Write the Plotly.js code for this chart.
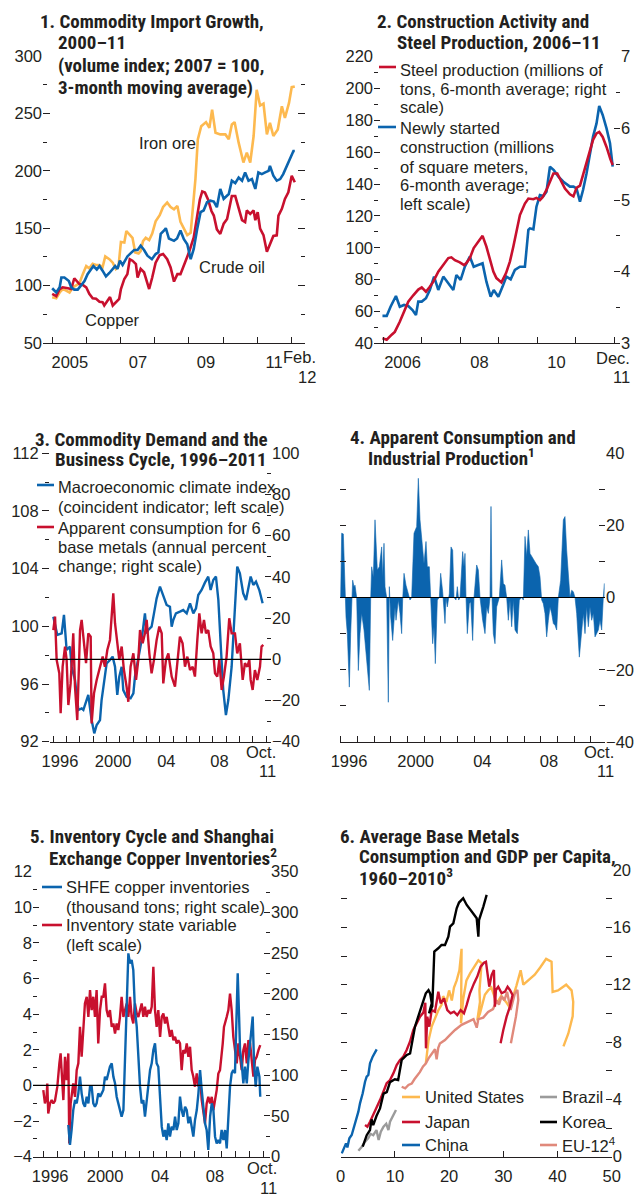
<!DOCTYPE html>
<html><head><meta charset="utf-8">
<script src="https://cdn.plot.ly/plotly-3.0.1.min.js"></script>
<style>html,body{margin:0;padding:0;background:#fff;}#chart{width:639px;height:1194px;}</style>
</head><body><div id="chart"></div>
<script>
// ---------- Panel 1: Commodity import growth (index, 2007 = 100) ----------
const ironX = [2004.98,2005.10,2005.20,2005.29,2005.39,2005.49,2005.59,2005.68,2005.78,2005.88,2005.98,2006.07,2006.17,2006.27,2006.37,2006.46,2006.54,2006.66,2006.76,2006.85,2006.93,2007.00,2007.10,2007.16,2007.26,2007.34,2007.42,2007.52,2007.58,2007.65,2007.73,2007.83,2007.92,2008.02,2008.14,2008.24,2008.36,2008.46,2008.56,2008.66,2008.75,2008.85,2008.95,2009.05,2009.11,2009.19,2009.26,2009.36,2009.50,2009.60,2009.68,2009.78,2009.92,2010.07,2010.17,2010.26,2010.34,2010.46,2010.60,2010.70,2010.80,2010.90,2010.99,2011.09,2011.19,2011.29,2011.38,2011.48,2011.61,2011.73,2011.82,2011.94,2012.02,2012.11];
const ironY = [89.9,89.0,94.0,97.0,95.7,94.0,98.5,100.0,102.0,110.0,117.0,115.0,119.0,118.0,118.0,116.0,125.4,123.0,120.0,114.5,117.0,138.0,137.5,147.5,144.6,141.6,128.9,128.0,130.0,138.7,141.6,139.6,145.4,156.0,161.3,168.5,172.3,168.5,166.5,169.4,155.5,150.0,144.0,146.0,164.0,193.0,227.4,238.9,242.4,237.5,253.3,233.1,231.7,231.7,227.4,240.3,242.4,224.5,207.2,215.9,207.2,230.3,270.6,256.8,258.5,231.7,241.8,230.3,236.0,256.2,246.1,259.1,272.9,273.5];
const oilX = [2004.98,2005.10,2005.20,2005.25,2005.34,2005.47,2005.54,2005.63,2005.73,2005.83,2005.93,2006.02,2006.12,2006.19,2006.29,2006.37,2006.46,2006.56,2006.66,2006.75,2006.83,2006.90,2006.97,2007.05,2007.13,2007.19,2007.29,2007.39,2007.49,2007.58,2007.68,2007.78,2007.91,2008.02,2008.10,2008.17,2008.27,2008.32,2008.41,2008.56,2008.65,2008.75,2008.85,2008.95,2009.05,2009.14,2009.24,2009.34,2009.43,2009.53,2009.63,2009.73,2009.82,2009.92,2010.02,2010.12,2010.17,2010.26,2010.36,2010.46,2010.56,2010.65,2010.75,2010.85,2010.95,2011.04,2011.14,2011.24,2011.34,2011.38,2011.48,2011.58,2011.68,2011.77,2011.87,2011.97,2012.07,2012.11];
const oilY = [97.7,94.0,98.5,107.0,107.0,104.0,98.5,96.5,96.5,100.0,104.0,110.0,114.5,117.0,114.0,117.0,113.0,108.0,111.0,114.5,117.0,114.5,121.7,118.0,123.0,125.4,128.3,131.0,131.0,134.7,131.0,126.0,123.0,127.5,129.0,145.0,148.0,150.0,141.0,139.0,141.0,148.0,140.5,136.0,123.0,132.0,149.0,164.0,165.4,172.6,174.0,173.2,168.3,184.2,175.5,178.4,179.8,191.4,189.3,194.2,191.4,198.6,191.4,192.8,184.2,198.6,197.1,198.6,200.0,204.3,195.7,191.4,192.8,197.1,204.3,211.5,217.3,217.3];
const copperX = [2004.98,2005.10,2005.20,2005.29,2005.44,2005.54,2005.63,2005.70,2005.78,2005.88,2005.98,2006.07,2006.17,2006.27,2006.37,2006.46,2006.51,2006.61,2006.68,2006.76,2006.85,2006.95,2007.00,2007.10,2007.19,2007.26,2007.34,2007.44,2007.49,2007.58,2007.68,2007.83,2007.92,2008.02,2008.14,2008.24,2008.36,2008.46,2008.56,2008.66,2008.75,2008.90,2009.00,2009.14,2009.24,2009.32,2009.39,2009.47,2009.56,2009.66,2009.73,2009.82,2009.92,2010.02,2010.12,2010.26,2010.36,2010.46,2010.56,2010.65,2010.70,2010.80,2010.90,2010.95,2011.02,2011.09,2011.19,2011.29,2011.38,2011.48,2011.58,2011.63,2011.73,2011.82,2011.92,2012.02,2012.11];
const copperY = [92.8,90.8,97.0,98.5,97.7,97.0,106.4,104.0,101.4,100.6,98.5,92.8,89.0,88.5,86.0,85.5,82.7,87.0,90.0,82.7,85.6,88.5,97.0,105.8,110.0,123.0,121.7,118.8,107.0,114.5,111.6,97.0,107.0,120.0,126.5,127.5,123.0,115.8,103.5,110.0,110.0,121.7,129.0,142.0,160.7,175.0,182.0,181.0,175.0,165.0,161.0,149.0,145.0,154.0,158.0,178.0,178.0,167.0,157.0,155.3,165.4,162.5,165.4,157.0,164.0,149.6,144.0,129.4,136.6,143.2,143.8,161.0,166.9,175.5,181.3,195.7,190.0];

// ---------- Panel 2: construction activity and steel production ----------
const steelX = [2005.98,2006.09,2006.22,2006.30,2006.43,2006.54,2006.65,2006.78,2006.91,2007.00,2007.11,2007.21,2007.30,2007.43,2007.52,2007.60,2007.69,2007.77,2007.86,2007.99,2008.10,2008.16,2008.25,2008.35,2008.47,2008.58,2008.68,2008.77,2008.86,2008.94,2009.07,2009.19,2009.29,2009.38,2009.55,2009.68,2009.77,2009.90,2009.98,2010.07,2010.14,2010.24,2010.33,2010.42,2010.52,2010.59,2010.72,2010.85,2010.94,2011.02,2011.11,2011.19,2011.28,2011.37,2011.45,2011.54,2011.61,2011.70,2011.80,2011.90,2011.96];
const steelY = [3.07,3.05,3.12,3.16,3.30,3.44,3.58,3.67,3.75,3.78,3.72,3.79,3.86,4.00,4.07,4.12,4.19,4.20,4.16,4.13,4.09,4.12,4.19,4.33,4.42,4.50,4.35,4.19,4.00,3.91,3.85,3.98,4.14,4.35,4.79,4.95,5.02,5.01,5.03,5.00,5.04,5.14,5.26,5.37,5.37,5.30,5.16,5.08,5.05,5.17,5.20,5.35,5.51,5.70,5.84,5.93,5.95,5.88,5.74,5.57,5.49];
const constrX = [2005.98,2006.09,2006.19,2006.33,2006.43,2006.54,2006.65,2006.76,2006.85,2006.91,2007.00,2007.11,2007.21,2007.32,2007.43,2007.56,2007.69,2007.82,2007.90,2008.01,2008.12,2008.25,2008.35,2008.47,2008.58,2008.68,2008.79,2008.87,2008.99,2009.10,2009.20,2009.31,2009.42,2009.55,2009.68,2009.77,2009.81,2009.90,2009.98,2010.07,2010.16,2010.24,2010.33,2010.43,2010.55,2010.68,2010.85,2010.94,2011.02,2011.11,2011.19,2011.28,2011.37,2011.45,2011.54,2011.61,2011.70,2011.80,2011.89,2011.96];
const constrY = [57.2,57.2,63.0,69.7,63.0,64.1,63.4,60.9,57.8,66.2,66.2,68.3,73.5,81.9,73.5,81.9,77.7,73.5,82.9,79.8,88.1,94.4,88.1,89.2,90.2,78.7,69.3,73.5,69.3,75.6,81.9,80.2,86.1,88.1,88.1,111.2,112.2,111.6,125.8,133.1,132.5,135.2,150.9,148.8,144.7,141.5,138.4,138.4,137.3,129.0,136.3,146.7,159.3,169.8,178.1,189.0,183.4,175.0,165.6,150.9];

// ---------- Panel 3: macro climate index (left) and apparent consumption (right) ----------
const climX = [1996.00,1996.30,1996.63,1996.80,1997.00,1997.25,1997.38,1997.63,1997.88,1998.13,1998.26,1998.46,1998.63,1998.88,1999.08,1999.26,1999.51,1999.63,1999.88,2000.01,2000.26,2000.46,2000.64,2000.81,2000.96,2001.14,2001.26,2001.51,2001.81,2002.02,2002.14,2002.27,2002.47,2002.64,2002.89,2003.02,2003.14,2003.39,2003.57,2003.77,2004.02,2004.27,2004.52,2004.77,2004.90,2005.02,2005.22,2005.52,2005.77,2006.03,2006.28,2006.53,2006.73,2006.90,2007.15,2007.40,2007.65,2007.83,2008.03,2008.23,2008.41,2008.61,2008.78,2008.98,2009.16,2009.41,2009.66,2009.83,2010.03,2010.28,2010.49,2010.66,2010.84,2011.04,2011.24,2011.49,2011.74];
const climY = [100.67,99.40,99.51,100.79,98.36,98.59,97.20,96.28,94.20,94.31,94.20,94.77,95.24,93.50,92.58,93.16,93.50,94.89,96.51,97.43,97.66,97.90,97.20,95.24,96.51,97.20,95.58,95.12,95.01,95.35,96.51,97.20,98.13,99.05,100.90,99.51,99.75,99.98,100.90,101.94,102.75,102.06,101.48,101.36,99.98,100.44,100.90,101.02,101.13,100.90,101.60,100.90,101.25,102.17,102.52,103.03,103.45,102.52,103.21,103.45,101.83,98.36,95.58,93.85,94.89,97.20,100.90,104.14,103.68,102.29,101.83,102.75,103.45,102.87,103.10,102.52,101.60];
const consX = [1996.00,1996.13,1996.25,1996.45,1996.55,1996.70,1996.88,1997.00,1997.13,1997.30,1997.50,1997.63,1997.80,1998.01,1998.13,1998.26,1998.46,1998.63,1998.81,1998.88,1999.06,1999.26,1999.51,1999.71,1999.88,2000.06,2000.26,2000.51,2000.64,2000.76,2000.96,2001.14,2001.31,2001.51,2001.64,2001.81,2002.02,2002.22,2002.39,2002.52,2002.72,2002.89,2003.02,2003.22,2003.39,2003.57,2003.77,2003.97,2004.15,2004.27,2004.47,2004.65,2004.90,2005.15,2005.32,2005.52,2005.72,2005.90,2006.08,2006.28,2006.48,2006.65,2006.83,2006.98,2007.15,2007.33,2007.48,2007.65,2007.83,2008.03,2008.16,2008.33,2008.48,2008.66,2008.83,2009.03,2009.23,2009.41,2009.66,2009.83,2010.03,2010.24,2010.41,2010.59,2010.74,2010.84,2010.99,2011.16,2011.34,2011.54,2011.66,2011.79];
const consY = [14.2,20.7,-0.3,-6.8,-26.2,-3.6,6.2,-0.3,-22.2,-11.7,12.6,-13.3,-29.5,14.2,19.1,9.4,-1.9,12.6,11.0,-31.1,-16.5,-10.0,-3.6,1.3,-3.6,4.5,9.4,32.0,17.5,9.4,-0.3,6.2,-5.2,-13.3,-20.6,-3.6,2.9,-10.0,-0.3,14.2,7.8,12.6,19.1,2.9,-6.8,-0.3,9.4,15.9,12.6,-11.7,-0.3,2.9,-8.4,-13.3,-3.6,11.0,7.8,-3.6,1.3,-5.2,-3.6,-8.4,9.4,22.3,12.6,19.1,12.6,14.2,6.2,2.9,-6.8,-8.4,-0.3,-14.9,-8.4,1.3,19.9,12.6,12.6,2.9,7.8,-10.0,-1.9,-3.6,-0.3,-10.0,-14.9,-5.2,-10.0,-3.6,6.2,7.0];

// ---------- Panel 4: apparent consumption minus industrial production ----------
const gapX = [1996.00,1996.06,1996.16,1996.20,1996.26,1996.32,1996.40,1996.52,1996.60,1996.66,1996.72,1996.80,1996.86,1996.96,1997.06,1997.16,1997.26,1997.40,1997.52,1997.66,1997.72,1997.80,1997.86,1997.96,1998.06,1998.20,1998.32,1998.46,1998.52,1998.60,1998.66,1998.76,1998.86,1998.92,1999.00,1999.12,1999.26,1999.32,1999.46,1999.56,1999.66,1999.72,1999.80,1999.92,2000.06,2000.16,2000.26,2000.40,2000.56,2000.66,2000.76,2000.86,2001.00,2001.12,2001.20,2001.32,2001.40,2001.52,2001.60,2001.68,2001.80,2001.92,2002.00,2002.12,2002.26,2002.32,2002.40,2002.52,2002.62,2002.72,2002.80,2002.92,2003.00,2003.08,2003.16,2003.32,2003.40,2003.46,2003.52,2003.60,2003.72,2003.80,2003.92,2004.00,2004.16,2004.26,2004.36,2004.52,2004.66,2004.76,2004.86,2004.96,2005.02,2005.08,2005.16,2005.26,2005.36,2005.52,2005.66,2005.76,2005.86,2005.96,2006.06,2006.16,2006.26,2006.36,2006.46,2006.60,2006.72,2006.86,2006.96,2007.06,2007.16,2007.26,2007.36,2007.46,2007.56,2007.72,2007.86,2007.96,2008.06,2008.16,2008.26,2008.36,2008.46,2008.56,2008.66,2008.76,2008.86,2008.96,2009.06,2009.20,2009.36,2009.46,2009.56,2009.66,2009.76,2009.86,2009.96,2010.06,2010.16,2010.32,2010.46,2010.56,2010.66,2010.76,2010.86,2010.96,2011.06,2011.16,2011.26,2011.36,2011.46,2011.56,2011.66,2011.76,2011.82];
const gapY = [0,17.8,17.6,10.4,0,-5.4,-10.0,-24.8,-10.0,0,4.8,3.0,3.4,0,-20.2,-10.0,-4.4,-9.0,-15.6,-24.8,-25.7,-0.7,8.5,5.7,21.5,7.6,8.5,14.0,5.7,15.0,3.0,0,-29.0,3.0,-5.4,-11.9,-2.6,-6.3,-0.7,-4.4,-10.0,-0.7,6.7,3.4,1.1,-0.7,0,17.8,19.6,33.0,21.5,15.9,9.4,15.5,8.5,8.5,-0.7,-12.8,-8.1,-18.3,-0.7,0,6.7,1.6,-7.2,0,-2.6,1.1,14.0,13.1,0,-0.7,3.0,-0.7,0,12.7,8.5,12.2,0,-10.0,-1.7,-1.2,-11.9,0,9.0,7.6,0,-6.3,-10.0,-2.6,-4.4,0,25.2,0,-10.0,-12.8,-2.6,0,10.4,3.9,3.4,0,-6.3,-0.7,-8.1,-0.7,-9.0,-10.0,-0.7,0,-0.7,16.9,11.3,18.7,12.2,11.3,10.4,9.4,8.5,5.7,-0.7,-1.7,-4.4,-10.9,-6.3,-2.6,-4.4,-7.2,-7.7,-9.0,0,4.8,21.5,22.4,13.1,5.7,0,2.0,1.6,0,-4.4,-16.5,-9.0,-4.4,-10.0,-2.6,-8.1,-2.6,-6.3,-4.4,-10.9,-10.0,-9.0,-6.3,-9.0,0,3.9];

// ---------- Panel 5: SHFE copper inventories (right) and inventory state variable (left) ----------
const shfeX = [1997.82,1997.94,1998.06,1998.18,1998.31,1998.43,1998.55,1998.67,1998.79,1998.91,1999.03,1999.16,1999.28,1999.40,1999.52,1999.64,1999.76,1999.88,2000.00,2000.13,2000.25,2000.37,2000.49,2000.61,2000.73,2000.85,2000.98,2001.10,2001.22,2001.34,2001.46,2001.58,2001.70,2001.83,2001.95,2002.07,2002.19,2002.31,2002.43,2002.55,2002.67,2002.80,2002.92,2003.04,2003.16,2003.28,2003.40,2003.52,2003.65,2003.77,2003.89,2004.01,2004.13,2004.25,2004.37,2004.50,2004.62,2004.74,2004.86,2004.98,2005.10,2005.22,2005.34,2005.47,2005.59,2005.71,2005.83,2005.95,2006.07,2006.19,2006.32,2006.44,2006.56,2006.68,2006.80,2006.92,2007.04,2007.17,2007.29,2007.41,2007.53,2007.65,2007.77,2007.89,2008.01,2008.14,2008.26,2008.38,2008.50,2008.62,2008.74,2008.86,2008.98,2009.11,2009.23,2009.35,2009.47,2009.59,2009.71,2009.83,2009.95,2010.08,2010.15,2010.25,2010.32,2010.44,2010.56,2010.68,2010.81,2010.93,2011.05,2011.17,2011.24,2011.34,2011.46,2011.58,2011.73,2011.79];
const shfeY = [38.9,14.4,32.8,57.3,69.6,65.5,77.8,98.3,77.8,65.5,61.4,73.7,65.5,86.0,86.0,65.5,61.4,65.5,77.8,73.7,77.8,81.9,98.3,94.2,102.4,110.5,114.6,98.3,90.1,73.7,65.5,57.3,49.1,57.3,118.7,188.3,249.7,237.4,241.5,229.2,180.1,159.7,118.7,86.0,65.5,69.6,49.1,65.5,90.1,106.5,114.6,131.0,139.2,114.6,110.5,77.8,36.9,24.6,32.8,20.5,41.0,24.6,36.9,32.8,49.1,32.8,41.0,73.7,57.3,49.1,61.4,57.3,41.0,49.1,36.9,24.6,45.0,57.3,77.8,106.5,81.9,57.3,41.0,32.8,8.2,49.1,65.5,57.3,24.6,16.4,20.5,16.4,32.8,20.5,32.8,10.2,49.1,86.0,102.4,106.5,102.4,188.3,225.2,172.0,131.0,114.6,90.1,110.5,90.1,118.7,139.2,155.6,172.0,114.6,86.0,110.5,98.3,73.7];
const stateX = [1996.00,1996.12,1996.24,1996.29,1996.36,1996.49,1996.61,1996.73,1996.85,1997.02,1997.17,1997.26,1997.36,1997.46,1997.58,1997.70,1997.82,1997.89,1997.99,1998.06,1998.18,1998.31,1998.43,1998.55,1998.67,1998.79,1998.91,1999.03,1999.16,1999.28,1999.40,1999.52,1999.64,1999.76,1999.88,2000.00,2000.13,2000.25,2000.37,2000.49,2000.61,2000.73,2000.85,2000.98,2001.10,2001.22,2001.34,2001.46,2001.58,2001.70,2001.83,2001.95,2002.07,2002.19,2002.31,2002.43,2002.55,2002.67,2002.80,2002.92,2003.04,2003.16,2003.28,2003.40,2003.52,2003.65,2003.77,2003.89,2004.01,2004.13,2004.25,2004.37,2004.50,2004.62,2004.74,2004.86,2004.98,2005.10,2005.22,2005.34,2005.47,2005.59,2005.71,2005.83,2005.95,2006.07,2006.19,2006.32,2006.44,2006.56,2006.68,2006.80,2006.92,2007.04,2007.17,2007.29,2007.41,2007.53,2007.65,2007.77,2007.89,2008.01,2008.14,2008.26,2008.38,2008.50,2008.62,2008.74,2008.86,2009.06,2009.15,2009.35,2009.47,2009.59,2009.71,2009.83,2009.95,2010.08,2010.20,2010.32,2010.44,2010.56,2010.68,2010.81,2010.93,2011.05,2011.17,2011.29,2011.41,2011.53,2011.66,2011.79];
const stateY = [-0.26,-1.01,-0.64,0.11,-1.57,-1.01,-0.82,-1.01,-0.86,-0.07,1.24,1.80,0.49,-0.82,1.61,0.30,1.80,-3.26,-1.01,-0.64,0.11,-0.64,0.86,1.24,3.29,1.61,3.48,4.60,4.98,3.85,5.35,4.23,4.98,3.85,5.35,2.36,4.23,4.98,4.98,5.73,4.23,3.85,4.23,3.29,3.48,2.92,3.48,3.11,3.85,4.98,3.85,4.23,4.60,3.85,4.98,3.85,3.48,4.60,4.04,3.85,4.23,4.60,3.85,4.42,3.85,4.23,4.04,4.42,6.66,4.23,3.29,4.23,2.73,3.85,4.04,3.48,3.85,3.29,2.73,3.11,2.54,2.73,2.36,2.54,2.36,0.86,1.98,1.80,2.36,1.61,2.17,0.86,0.49,-0.07,0.67,-0.07,0.49,-0.82,-1.38,-2.13,-1.01,-0.64,-1.01,-0.64,-1.38,-0.82,-0.26,0.67,0.86,2.36,3.29,3.85,4.23,5.16,4.23,2.73,1.98,1.24,2.36,1.61,0.86,1.98,2.36,1.24,2.54,2.36,1.24,0.49,1.43,1.61,1.98,2.26];

// ---------- Panel 6: base metals consumption (kg per capita) vs GDP per capita (thousands) ----------
const usX = [15.7,16.2,16.8,17.4,18.0,18.6,18.9,19.5,20.0,20.5,20.9,21.4,21.9,22.3,22.2,22.6,23.2,23.9,24.8,25.4,26.0,25.6,25.7,25.2,25.7,26.6,27.2,27.8,28.8,29.6,30.5,31.2,32.4,33.2,33.7,34.6,35.8,36.8,37.9,38.9,39.1,40.1,41.6,42.6,42.9,42.8,42.0,41.1];
const usY = [6.5,8.1,9.1,9.7,10.2,10.6,11.2,10.8,11.6,10.9,11.8,12.3,13.0,14.5,9.3,11.0,12.3,12.8,13.4,13.7,13.5,11.6,10.8,9.5,10.0,11.3,11.6,11.8,10.7,11.2,10.8,10.4,11.9,13.0,12.0,12.3,12.7,13.2,13.8,13.6,11.5,11.6,12.0,11.6,10.8,9.8,8.6,7.7];
const japanX = [4.49,4.92,5.41,6.02,6.64,7.25,7.87,8.48,9.10,9.71,10.33,10.94,11.56,12.17,12.78,13.40,14.01,14.63,15.24,15.61,15.73,15.98,16.35,16.78,17.39,18.01,18.44,19.05,19.67,20.28,20.90,21.51,22.13,22.74,23.23,23.85,24.59,25.20,25.82,26.43,26.80,27.04,27.41,27.84,28.27,28.45,28.64,29.07,29.69,30.30,30.79,31.22,31.71,31.22,30.61,30.00,29.50];
const japanY = [2.21,2.09,2.44,2.91,3.49,3.95,4.53,5.12,5.35,5.81,6.40,6.74,6.98,7.44,8.02,8.84,9.30,9.77,10.05,10.74,7.56,9.77,9.07,10.23,10.12,11.51,10.70,11.05,10.23,10.00,10.12,9.88,10.23,10.00,10.58,11.40,12.09,12.56,13.26,13.53,13.60,12.79,11.86,12.67,13.02,10.47,11.63,11.86,11.40,11.51,11.86,11.63,11.28,10.47,9.77,8.84,7.91];
const chinaX = [0.2,0.49,0.98,1.23,1.6,2.03,2.34,2.83,3.26,3.56,4.06,4.49,4.79,5.1,5.41,5.9,6.33,6.64];
const chinaY = [0.23,0.47,0.93,0.65,1.28,1.51,1.9,2.44,3.14,3.72,4.42,5.23,5.58,5.7,6.51,6.98,7.33,7.49];
const brazilX = [3.26,3.9,4.5,5.1,5.5,6.0,6.6,7.0,7.4,7.9,8.4,8.8,9.1,9.6,10.0,10.2];
const brazilY = [0.42,0.7,1.05,1.3,1.6,1.5,1.86,1.16,1.74,2.1,2.3,1.86,2.44,2.8,3.14,3.26];
const koreaX = [4.06,4.8,5.4,5.7,6.0,6.6,7.25,7.9,8.5,9.1,10.0,10.6,11.25,12.2,12.8,13.2,13.7,14.3,15.06,15.7,16.2,16.5,16.8,16.3,16.9,17.27,18.0,18.6,19.24,19.86,20.17,20.78,21.4,21.83,22.6,23.25,24.17,25.09,25.4,25.52,26.32,26.93];
const koreaY = [0.7,1.5,1.86,2.6,2.2,2.84,3.37,4.4,4.5,5.2,5.4,5.35,6.75,7.1,7.2,8.14,9.07,9.77,10.7,11.4,11.62,11.39,10.7,10.0,10.5,14.31,14.54,14.77,14.77,15.35,16.05,16.28,17.33,17.73,18.03,17.56,17.1,16.63,15.35,16.51,17.45,18.26];
const euX = [11.25,11.9,12.5,13.1,13.6,14.2,14.6,15.2,15.7,16.2,16.8,17.4,17.7,18.0,18.3,19.24,20.17,21.1,22.3,23.55,24.5,25.1,25.4,26.3,27.2,28.1,28.8,29.2,29.7,30.2,30.7,31.35,31.84,32.15,32.6,32.76,32.33,31.84,31.4];
const euY = [4.88,4.77,5.0,5.1,5.4,5.7,5.9,6.3,6.5,6.86,7.2,7.5,6.8,7.6,7.9,8.14,8.5,8.84,9.2,9.44,9.6,9.0,9.6,9.7,10.1,10.3,10.9,10.6,11.2,10.9,11.5,10.24,10.94,11.4,11.63,10.94,9.77,8.84,7.91];

// ---------- tick labels ----------
const p1TickVals = [2005.5,2007.5,2009.5,2011.5], p1TickText = ['2005','07','09','11'];
const p1Years = [2005,2006,2007,2008,2009,2010,2011,2012];
const p2TickVals = [2006.5,2008.5,2010.5], p2TickText = ['2006','08','10'];
const p2Years = [2006,2007,2008,2009,2010,2011,2012];
const longTickVals = [1996.5,2000.5,2004.5,2008.5], longTickText = ['1996','2000','04','08'];
const longYears = [1996,1997,1998,1999,2000,2001,2002,2003,2004,2005,2006,2007,2008,2009,2010,2011,2012];

// ---------- styling ----------
const W = 639, H = 1194;
const INK = '#231f20';
const RED = '#c8102e', BLUE = '#0b64ae', ORANGE = '#fdb94f', GRAY = '#9b9b9b', BLACK = '#000000', SALMON = '#e0897b';
const FONT = 'Liberation Sans, Arial, Helvetica, sans-serif';
const TFONT = 'Roboto Condensed, Liberation Sans, sans-serif';
const TF = {family: FONT, size: 16.5, color: INK};

function xAx(l, r, range, anchor, vals, text, minorVals) {
  return {domain: [l / W, r / W], range: range, anchor: anchor, tickmode: 'array', tickvals: vals, ticktext: text,
    ticks: '', showline: true, linecolor: INK, linewidth: 1, showgrid: false, zeroline: false, tickfont: TF,
    ticklabelstandoff: 4, fixedrange: true,
    minor: {tickmode: 'array', tickvals: minorVals, ticks: 'inside', ticklen: 6, tickwidth: 1, tickcolor: INK, showgrid: false}};
}
function yAx(bottom, top, range, anchor, dtick, minorDtick, extra) {
  return Object.assign({domain: [1 - bottom / H, 1 - top / H], range: range, anchor: anchor,
    tickmode: 'linear', tick0: 0, dtick: dtick, ticks: 'inside', ticklen: 6, tickwidth: 1, tickcolor: INK,
    showline: false, showgrid: false, zeroline: false, tickfont: TF, fixedrange: true,
    minor: {tickmode: 'linear', tick0: 0, dtick: minorDtick, ticks: 'inside', ticklen: 4, tickwidth: 1, tickcolor: INK, showgrid: false}},
    extra || {});
}

const line = (x, y, xa, ya, color, w) => ({type: 'scatter', mode: 'lines', x: x, y: y, xaxis: xa, yaxis: ya,
  line: {color: color, width: w || 2.6}, hoverinfo: 'skip'});

const data = [
  line(ironX, ironY, 'x', 'y', ORANGE),
  line(copperX, copperY, 'x', 'y', RED),
  line(oilX, oilY, 'x', 'y', BLUE),
  line(constrX, constrY, 'x2', 'y2', BLUE),
  line(steelX, steelY, 'x2', 'y3', RED),
  line(consX, consY, 'x3', 'y5', RED, 2.4),
  line(climX, climY, 'x3', 'y4', BLUE, 2.4),
  Object.assign(line(gapX, gapY, 'x4', 'y6', BLUE, 0.6), {fill: 'tozeroy', fillcolor: BLUE}),
  line(stateX, stateY, 'x5', 'y7', RED, 2.4),
  line(shfeX, shfeY, 'x5', 'y8', BLUE, 2.4),
  line(usX, usY, 'x6', 'y9', ORANGE, 2.4),
  line(euX, euY, 'x6', 'y9', SALMON, 2.4),
  line(japanX, japanY, 'x6', 'y9', RED, 2.4),
  line(brazilX, brazilY, 'x6', 'y9', GRAY, 2.4),
  line(koreaX, koreaY, 'x6', 'y9', BLACK, 2.4),
  line(chinaX, chinaY, 'x6', 'y9', BLUE, 2.4)
];

// annotation helpers (pixel positions on the page)
function T(x, y, text, opt) {
  opt = opt || {};
  return {xref: 'paper', yref: 'paper', x: x / W, y: 1 - y / H, text: text, showarrow: false,
    xanchor: opt.anchor || 'left', yanchor: 'middle', align: opt.anchor || 'left',
    font: {family: opt.title ? TFONT : FONT, size: opt.size || (opt.title ? 19 : 16.5), color: INK, weight: opt.title ? 'bold' : 'normal'}};
}
const tt = (x, y, s) => T(x, y, s, {title: true});

const annotations = [
  // titles
  tt(38, 21, '1. Commodity Import Growth,'), tt(56, 43, '2000–11'), tt(56, 65, '(volume index; 2007 = 100,'), tt(56, 87, '3-month moving average)'),
  tt(375, 21, '2. Construction Activity and'), tt(395, 43, 'Steel Production, 2006–11'),
  tt(33, 440, '3. Commodity Demand and the'), tt(53, 460, 'Business Cycle, 1996–2011'),
  tt(348, 438, '4. Apparent Consumption and'), tt(366, 458, 'Industrial Production<sup>1</sup>'),
  tt(28, 836, '5. Inventory Cycle and Shanghai'), tt(47, 857, 'Exchange Copper Inventories<sup>2</sup>'),
  tt(338, 836, '6. Average Base Metals'), tt(357, 856, 'Consumption and GDP per Capita,'), tt(357, 877, '1960–2010<sup>3</sup>'),
  // panel 1 series labels
  T(137, 143, 'Iron ore'), T(197, 267, 'Crude oil'), T(83, 320, 'Copper'),
  // panel 2 legend
  T(398, 70, 'Steel production (millions of'), T(398, 89, 'tons, 6-month average; right'), T(398, 107, 'scale)'),
  T(398, 128, 'Newly started'), T(398, 147, 'construction (millions'), T(398, 167, 'of square meters,'), T(398, 185, '6-month average;'), T(398, 204, 'left scale)'),
  // panel 3 legend
  T(56, 487, 'Macroeconomic climate index'), T(56, 507, '(coincident indicator; left scale)'),
  T(56, 528, 'Apparent consumption for 6'), T(56, 547, 'base metals (annual percent'), T(56, 566, 'change; right scale)'),
  // panel 5 legend
  T(64, 887, 'SHFE copper inventories'), T(64, 907, '(thousand tons; right scale)'),
  T(64, 925, 'Inventory state variable'), T(64, 945, '(left scale)'),
  // panel 6 legend
  T(423, 1097, 'United States'), T(423, 1122, 'Japan'), T(423, 1145, 'China'),
  T(560, 1097, 'Brazil'), T(560, 1122, 'Korea'), T(560, 1145, 'EU-12<sup>4</sup>'),
  // end-of-axis date labels
  T(318, 357, 'Feb.'), T(318, 377, '12'),
  T(632, 358, 'Dec.'), T(632, 377, '11'),
  T(278, 752, 'Oct.'), T(278, 771, '11'),
  T(616, 752, 'Oct.'), T(616, 771, '11'),
  T(279, 1168, 'Oct.'), T(279, 1188, '11')
];
// right-align the end-of-axis labels
annotations.slice(-10).forEach(a => { a.xanchor = 'right'; a.align = 'right'; });

function key(x0, x1, y, color) {
  return {type: 'line', xref: 'paper', yref: 'paper', x0: x0 / W, x1: x1 / W, y0: 1 - y / H, y1: 1 - y / H,
    line: {color: color, width: 2.6}};
}
const zero = (xa, ya) => ({type: 'line', xref: xa + ' domain', yref: ya, x0: 0, x1: 1, y0: 0, y1: 0,
  line: {color: '#000', width: 1.2}, layer: 'above'});

const shapes = [
  key(379, 396, 67, RED), key(378, 396, 127, BLUE),
  key(37, 54, 485, BLUE), key(37, 54, 527, RED),
  key(42, 62, 887, BLUE), key(42, 62, 925, RED),
  key(402, 420, 1097, ORANGE), key(402, 420, 1122, RED), key(402, 420, 1145, BLUE),
  key(540, 557, 1097, GRAY), key(540, 557, 1122, BLACK), key(540, 557, 1145, SALMON),
  zero('x3', 'y5'), zero('x4', 'y6'), zero('x5', 'y7')
];

const layout = {
  width: W, height: H, margin: {l: 0, r: 0, t: 0, b: 0}, showlegend: false,
  paper_bgcolor: '#ffffff', plot_bgcolor: 'rgba(0,0,0,0)', font: {family: FONT, size: 16.5, color: INK},
  // panel 1
  xaxis: xAx(43, 305, [2004.71, 2012.41], 'y', p1TickVals, p1TickText, p1Years),
  yaxis: yAx(343, 56, [50, 300], 'x', 50, 25, {mirror: 'ticks', ticklen: 7}),
  // panel 2
  xaxis2: xAx(374, 620, [2005.76, 2012.15], 'y2', p2TickVals, p2TickText, p2Years),
  yaxis2: yAx(343.3, 56.7, [40, 220], 'x2', 20, 10),
  yaxis3: yAx(343.3, 56.7, [3, 7], 'x2', 1, 0.5, {overlaying: 'y2', side: 'right'}),
  // panel 3
  xaxis3: xAx(50, 271, [1995.75, 2012.37], 'y4', longTickVals, longTickText, longYears),
  yaxis4: yAx(741.7, 453.3, [92, 112], 'x3', 4, 2, {ticks: 'outside', ticklen: 7, minor: {tickmode: 'linear', tick0: 0, dtick: 2, ticks: 'outside', ticklen: 4, tickcolor: INK}}),
  yaxis5: yAx(741.7, 453.3, [-40, 100], 'x3', 20, 10, {overlaying: 'y4', side: 'right'}),
  // panel 4
  xaxis4: xAx(340, 605, [1995.96, 2011.86], 'y6', longTickVals, longTickText, longYears.slice(0, 16)),
  yaxis6: yAx(742, 453, [-40, 40], 'x4', 20, 10, {side: 'right', mirror: 'ticks', minor: {tickmode: 'linear', tick0: 0, dtick: 10, ticks: 'inside', ticklen: 6, tickcolor: INK}}),
  // panel 5
  xaxis5: xAx(33, 270, [1995.25, 2012.50], 'y7', longTickVals, longTickText, longYears),
  yaxis7: yAx(1156.7, 871.7, [-4, 12], 'x5', 2, 1),
  yaxis8: yAx(1156.7, 871.7, [0, 350], 'x5', 50, 25, {overlaying: 'y7', side: 'right'}),
  // panel 6
  xaxis6: {domain: [340.7 / W, 611.7 / W], range: [0, 50], anchor: 'y9', tickmode: 'linear', tick0: 0, dtick: 10,
    ticks: 'inside', ticklen: 6, tickcolor: INK, showline: true, linecolor: INK, linewidth: 1, showgrid: false,
    zeroline: false, tickfont: TF, ticklabelstandoff: 4, fixedrange: true},
  yaxis9: yAx(1156.7, 870, [0, 20], 'x6', 4, 2, {side: 'right', mirror: 'ticks', minor: {tickmode: 'linear', tick0: 0, dtick: 2, ticks: 'inside', ticklen: 6, tickcolor: INK}}),
  annotations: annotations,
  shapes: shapes
};

Plotly.newPlot('chart', data, layout, {staticPlot: true, displayModeBar: false});
</script></body></html>
